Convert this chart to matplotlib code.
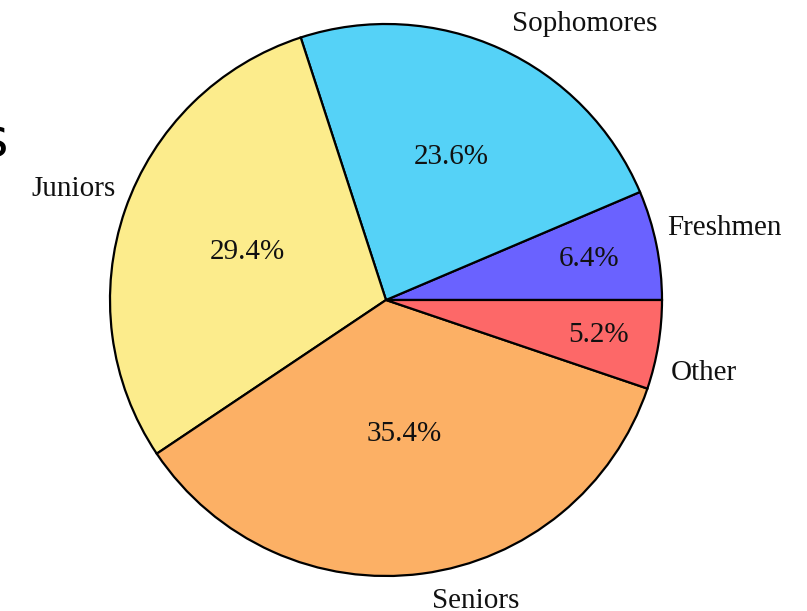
import matplotlib.pyplot as plt
import numpy as np

# Datos del gráfico
categories = ['Freshmen', 'Sophomores', 'Juniors', 'Seniors', 'Other']
percentages = [6.4, 23.6, 29.4, 35.4, 5.2]
colors = ['#6a62ff', '#55d2f7', '#fcec8c', '#fcb065', '#fd6868']

plt.rcParams['font.family'] = ['Liberation Serif', 'DejaVu Serif']

fig = plt.figure(figsize=(8.07, 6.11), dpi=100)
# ejes cuadrados centrados en el círculo (radio ~276 px)
ax = fig.add_axes([110 / 807, 35 / 611, 552 / 807, 552 / 611])

wedges, texts, autotexts = ax.pie(
    percentages,
    labels=categories,
    colors=colors,
    startangle=0,
    counterclock=True,
    autopct='%1.1f%%',
    pctdistance=0.55,
    labeldistance=1.1,
    wedgeprops={'edgecolor': 'black', 'linewidth': 1.6},
    textprops={'fontsize': 21, 'color': '#111111'},
)

# distancia de los porcentajes por porción
pct_dist = [0.75, 0.57, 0.53, 0.49, 0.78]
for w, t, d in zip(wedges, autotexts, pct_dist):
    ang = np.deg2rad((w.theta1 + w.theta2) / 2)
    t.set_position((d * np.cos(ang), d * np.sin(ang)))

# pequeños ajustes de las etiquetas (en píxeles)
px = 1 / 276
nudges = [(-16, 11), (0, 0), (17, 12), (6, 0), (-15, -24)]
for t, (dx, dy) in zip(texts, nudges):
    x, y = t.get_position()
    t.set_position((x + dx * px, y + dy * px))

ax.set_xlim(-1, 1)
ax.set_ylim(-1, 1)
ax.set_aspect('equal')

# fragmento de texto recortado en el borde izquierdo
fig.text(-0.024, 0.77, 's', fontsize=38, family='DejaVu Sans', va='center')

plt.savefig('out.png')
plt.close()
